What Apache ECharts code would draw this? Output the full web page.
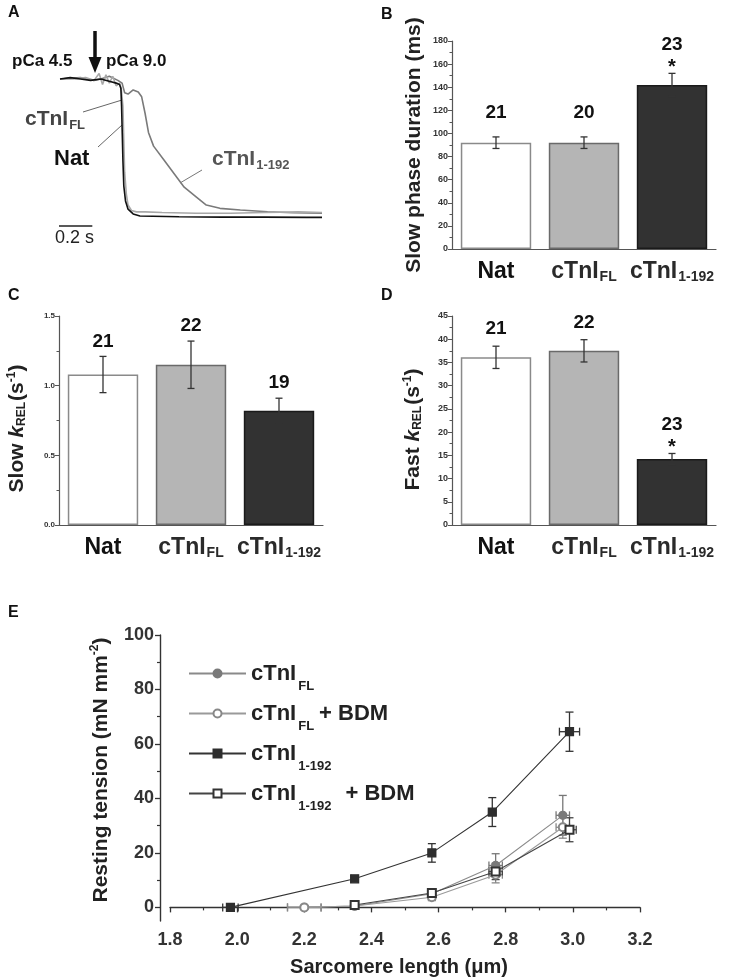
<!DOCTYPE html>
<html><head><meta charset="utf-8">
<script src="https://cdn.jsdelivr.net/npm/echarts@6/dist/echarts.min.js"></script>
<style>html,body{margin:0;padding:0;background:#fff}#c{width:747px;height:979px}</style>
</head><body><div id="c"></div>
<script>
// ---------- Panel A: relaxation traces (time in s, normalised tension) ----------
const natT = [0,0.06,0.12,0.18,0.24,0.30,0.33,0.35,0.358,0.362,0.366,0.37,0.375,0.385,0.40,0.43,0.47,0.70,0.95,1.20,1.45,1.54];
const natY = [1.00,1.01,1.00,0.99,1.00,0.98,0.97,0.96,0.93,0.80,0.60,0.40,0.22,0.11,0.05,0.015,0.0,-0.005,-0.008,-0.008,-0.01,-0.01];
const flT = [0,0.08,0.15,0.20,0.23,0.25,0.27,0.29,0.31,0.33,0.35,0.36,0.37,0.375,0.38,0.39,0.40,0.42,0.45,0.50,0.60,0.80,1.00,1.20,1.40,1.54];
const flTraceY = [1.00,1.00,1.01,0.99,1.04,0.96,1.03,0.97,1.02,0.95,0.97,0.93,0.80,0.55,0.32,0.16,0.08,0.04,0.03,0.03,0.025,0.02,0.02,0.025,0.03,0.025];
const t192T = [0,0.12,0.20,0.24,0.29,0.34,0.365,0.38,0.40,0.43,0.46,0.48,0.50,0.52,0.55,0.61,0.67,0.73,0.80,0.86,0.94,1.06,1.22,1.37,1.54];
const t192Y = [1.00,1.01,0.99,1.00,1.02,0.99,0.97,0.90,0.89,0.92,0.905,0.87,0.75,0.61,0.51,0.41,0.31,0.21,0.14,0.08,0.056,0.044,0.031,0.024,0.02];
const scaleBarT = [-0.01, 0.19];   // 0.2 s scale bar
const scaleBarY = [-0.073, -0.073];

// ---------- Panels B-D: bar charts ----------
const barCategories = ['Nat', 'cTnI_FL', 'cTnI_1-192'];
const slowDurMean = [92, 92, 142];
const slowDurErr  = [5, 5, 10];
const slowDurN    = [21, 20, 23];
const slowDurSig  = [0, 0, 1];
const slowKMean = [1.08, 1.15, 0.82];
const slowKErr  = [0.13, 0.17, 0.09];
const slowKN    = [21, 22, 19];
const slowKSig  = [0, 0, 0];
const fastKMean = [36.1, 37.5, 14.2];
const fastKErr  = [2.4, 2.4, 1.2];
const fastKN    = [21, 22, 23];
const fastKSig  = [0, 0, 1];

// ---------- Panel E: resting tension vs sarcomere length ----------
const eNames = ['cTnI_FL', 'cTnI_FL + BDM', 'cTnI_1-192', 'cTnI_1-192 + BDM'];
const flX = [2.20, 2.35, 2.58, 2.77, 2.97];
const flY = [0, 0.5, 5.0, 15.4, 33.8];
const flXErr = [0.05, 0.01, 0.01, 0.02, 0.02];
const flYErr = [0.3, 0.5, 1.0, 4.3, 7.3];
const flBdmX = [2.20, 2.35, 2.58, 2.77, 2.97];
const flBdmY = [0, 0.5, 3.7, 12.0, 29.4];
const flBdmXErr = [0.05, 0.01, 0.01, 0.02, 0.02];
const flBdmYErr = [0.3, 0.5, 1.0, 3.0, 4.0];
const t192X = [1.98, 2.35, 2.58, 2.76, 2.99];
const t192RestY = [0, 10.5, 20.0, 35.0, 64.5];
const t192XErr = [0.023, 0.01, 0.01, 0.01, 0.03];
const t192YErr = [0.5, 1.0, 3.4, 5.3, 7.2];
const t192BdmX = [2.35, 2.58, 2.77, 2.99];
const t192BdmY = [0.9, 5.3, 13.2, 28.5];
const t192BdmXErr = [0.01, 0.01, 0.02, 0.02];
const t192BdmYErr = [0.5, 1.0, 3.0, 4.4];
const eYTicks = [0, 20, 40, 60, 80, 100];
const eYMinorTicks = [10, 30, 50, 70, 90];

// ---------------------------------------------------------------
const FONT = 'Liberation Sans, Arial, sans-serif';
const zip = (a, b) => a.map((v, i) => [v, b[i]]);

function richName(name, mainKey) {
  if (name.indexOf('_') < 0) return '{' + (mainKey || 'nat') + '|' + name + '}';
  const parts = name.split('_');
  const rest = parts[1].split(' + ');
  const subKey = (rest.length > 1 && rest[0].length > 2) ? 's2' : 's';
  let s = '{m|' + parts[0] + '}{' + subKey + '|' + rest[0] + '}';
  if (rest.length > 1) s += '{m|+ ' + rest[1] + '}';
  return s;
}

// subscript: small lineHeight + top padding lowers the token by padding/2
const catRich = {
  nat: {fontSize: 23, fontWeight: 'bold', color: '#111', fontFamily: FONT, lineHeight: 26},
  m:   {fontSize: 23, fontWeight: 'bold', color: '#2a2a2a', fontFamily: FONT, lineHeight: 26},
  s:   {fontSize: 14, fontWeight: 'bold', color: '#2a2a2a', fontFamily: FONT, lineHeight: 14, padding: [11, 0, 0, 1]}
};

function barGridAxes(gi, min, max, interval, labelFmt, labelSize, nameRich, nameGap, namePad) {
  const x = {
    type: 'category', gridIndex: gi, data: barCategories,
    axisLine: {lineStyle: {color: '#555', width: 1.2}},
    axisTick: {show: false},
    axisLabel: {margin: 10, interval: 0, formatter: v => richName(v), rich: catRich}
  };
  const y = {
    type: 'value', gridIndex: gi, min: min, max: max, interval: interval,
    splitLine: {show: false},
    axisLine: {show: true, lineStyle: {color: '#555', width: 1.2}},
    axisTick: {show: true, inside: false, length: 4, lineStyle: {color: '#555'}},
    minorTick: {show: true, splitNumber: 2, length: 2.5, lineStyle: {color: '#555'}},
    axisLabel: {fontSize: labelSize, fontWeight: 'bold', color: '#333', fontFamily: FONT, margin: 4, formatter: labelFmt},
    name: nameRich.text, nameLocation: 'middle', nameRotate: 90, nameGap: nameGap,
    nameTextStyle: {rich: nameRich.rich, padding: namePad}
  };
  return [x, y];
}

const titleRich = {
  t:  {fontSize: 21, fontWeight: 'bold', color: '#222', fontFamily: FONT, lineHeight: 24},
  k:  {fontSize: 21, fontWeight: 'bold', fontStyle: 'italic', color: '#222', fontFamily: FONT, lineHeight: 24},
  sb: {fontSize: 12, fontWeight: 'bold', color: '#222', fontFamily: FONT, lineHeight: 12, padding: [10, 1, 0, 0]},
  sp: {fontSize: 12, fontWeight: 'bold', color: '#222', fontFamily: FONT, lineHeight: 12, padding: [0, 0, 10, 0]}
};

const bAx = barGridAxes(1, 0, 180, 20, v => String(v), 9, {text: '{t|Slow phase duration (ms)}', rich: titleRich}, 26, [0, 0, 0, 0]);
const cAx = barGridAxes(2, 0, 1.5, 0.5, v => v.toFixed(1), 8, {text: '{t|Slow }{k|k}{sb|REL}{t|(s}{sp|-1}{t|)}', rich: titleRich}, 30, [0, 16, 0, 0]);
const dAx = barGridAxes(3, 0, 45, 5, v => String(v), 9, {text: '{t|Fast }{k|k}{sb|REL}{t|(s}{sp|-1}{t|)}', rich: titleRich}, 27, [0, 18, 0, 0]);

const barColors = [
  {color: '#ffffff', borderColor: '#8a8a8a'},
  {color: '#b5b5b5', borderColor: '#6a6a6a'},
  {color: '#323232', borderColor: '#1a1a1a'}
];

function barSeries(gi, mean, err, n, sig, gap) {
  const bars = {
    type: 'bar', xAxisIndex: gi, yAxisIndex: gi, barWidth: '80%',
    data: mean.map((v, i) => ({value: v, itemStyle: {color: barColors[i].color, borderColor: barColors[i].borderColor, borderWidth: 1.5}})),
    silent: true, animation: false
  };
  const errs = {
    type: 'custom', xAxisIndex: gi, yAxisIndex: gi, z: 5, animation: false, silent: true,
    data: mean.map((v, i) => [i, v - err[i], v + err[i]]),
    encode: {x: 0, y: [1, 2]},
    renderItem: (p, api) => {
      const a = api.coord([api.value(0), api.value(1)]);
      const b = api.coord([api.value(0), api.value(2)]);
      const st = {stroke: '#333', lineWidth: 1.3};
      return {type: 'group', children: [
        {type: 'line', shape: {x1: a[0], y1: a[1], x2: b[0], y2: b[1]}, style: st},
        {type: 'line', shape: {x1: a[0] - 3.5, y1: a[1], x2: a[0] + 3.5, y2: a[1]}, style: st},
        {type: 'line', shape: {x1: b[0] - 3.5, y1: b[1], x2: b[0] + 3.5, y2: b[1]}, style: st}
      ]};
    }
  };
  const labels = {
    type: 'custom', xAxisIndex: gi, yAxisIndex: gi, z: 6, animation: false, silent: true,
    data: mean.map((v, i) => [i, v + err[i], n[i], sig[i]]),
    encode: {x: 0, y: 1},
    renderItem: (p, api) => {
      const a = api.coord([api.value(0), api.value(1)]);
      const s = api.value(3);
      const ts = {fontSize: 19, fontWeight: 'bold', fill: '#111', fontFamily: FONT, align: 'center', verticalAlign: 'middle'};
      const kids = [{type: 'text', x: a[0], y: a[1] - (s ? 29 : gap), style: Object.assign({text: String(api.value(2))}, ts)}];
      if (s) kids.push({type: 'text', x: a[0], y: a[1] - 6, style: Object.assign({text: '*'}, ts, {fontSize: 20})});
      return {type: 'group', children: kids};
    }
  };
  return [bars, errs, labels];
}

// Panel E series
const eStyles = [
  {symbol: 'circle', item: '#7a7a7a', line: '#8a8a8a', err: '#777'},
  {symbol: 'emptyCircle', item: '#888', line: '#9a9a9a', err: '#888'},
  {symbol: 'rect', item: '#2e2e2e', line: '#333', err: '#333'},
  {symbol: 'emptyRect', item: '#333', line: '#444', err: '#444'}
];
const eData = [
  [flX, flY, flXErr, flYErr],
  [flBdmX, flBdmY, flBdmXErr, flBdmYErr],
  [t192X, t192RestY, t192XErr, t192YErr],
  [t192BdmX, t192BdmY, t192BdmXErr, t192BdmYErr]
];
const eSeries = [];
eData.forEach((d, k) => {
  const st = eStyles[k];
  eSeries.push({
    type: 'custom', xAxisIndex: 4, yAxisIndex: 4, z: 3, animation: false, silent: true, clip: false,
    data: d[0].map((x, i) => [x, d[1][i], d[2][i], d[3][i]]),
    encode: {x: 0, y: 1},
    renderItem: (p, api) => {
      const x = api.value(0), y = api.value(1), xe = api.value(2), ye = api.value(3);
      const lo = api.coord([x, y - ye]), hi = api.coord([x, y + ye]);
      const l = api.coord([x - xe, y]), r = api.coord([x + xe, y]);
      const s = {stroke: st.err, lineWidth: 1.3};
      return {type: 'group', children: [
        {type: 'line', shape: {x1: lo[0], y1: lo[1], x2: hi[0], y2: hi[1]}, style: s},
        {type: 'line', shape: {x1: lo[0] - 4, y1: lo[1], x2: lo[0] + 4, y2: lo[1]}, style: s},
        {type: 'line', shape: {x1: hi[0] - 4, y1: hi[1], x2: hi[0] + 4, y2: hi[1]}, style: s},
        {type: 'line', shape: {x1: l[0], y1: l[1], x2: r[0], y2: r[1]}, style: s},
        {type: 'line', shape: {x1: l[0], y1: l[1] - 4, x2: l[0], y2: l[1] + 4}, style: s},
        {type: 'line', shape: {x1: r[0], y1: r[1] - 4, x2: r[0], y2: r[1] + 4}, style: s}
      ]};
    }
  });
});
eData.forEach((d, k) => {
  const st = eStyles[k];
  eSeries.push({
    type: 'line', name: eNames[k], xAxisIndex: 4, yAxisIndex: 4, z: 4, animation: false, clip: false,
    data: zip(d[0], d[1]),
    symbol: st.symbol, symbolSize: 8, showAllSymbol: true,
    itemStyle: {color: st.item, borderColor: st.item, borderWidth: 1.2},
    lineStyle: {color: st.line, width: 1.1}
  });
});

const traceSeries = [
  {data: zip(t192T, t192Y), color: '#7a7a7a'},
  {data: zip(flT, flTraceY), color: '#a8a8a8'},
  {data: zip(natT, natY), color: '#111'},
  {data: zip(scaleBarT, scaleBarY), color: '#222'}
].map(s => ({type: 'line', xAxisIndex: 0, yAxisIndex: 0, data: s.data, symbol: 'none', clip: false,
  animation: false, silent: true, lineStyle: {color: s.color, width: 1.6}}));

const legendRich = {
  m:  {fontSize: 22, fontWeight: 'bold', color: '#222', fontFamily: FONT, lineHeight: 24},
  s:  {fontSize: 13, fontWeight: 'bold', color: '#222', fontFamily: FONT, lineHeight: 13, padding: [26, 5, 0, 2]},
  s2: {fontSize: 13, fontWeight: 'bold', color: '#222', fontFamily: FONT, lineHeight: 13, padding: [26, 14, 0, 2]}
};

const labelRichA = {
  m: {fontSize: 21, fontWeight: 'bold', fontFamily: FONT, lineHeight: 24},
  s: {fontSize: 13, fontWeight: 'bold', fontFamily: FONT, lineHeight: 13, padding: [13, 0, 0, 1]}
};

function gtext(x, y, text, size, color, extra) {
  return Object.assign({type: 'text', x: x, y: y, style: {text: text, fontSize: size, fontWeight: 'bold', fill: color,
    fontFamily: FONT, verticalAlign: 'middle', align: 'left'}}, extra || {});
}

const option = {
  backgroundColor: '#fff',
  textStyle: {fontFamily: FONT},
  grid: [
    {left: 60, top: 79, width: 262, height: 137},
    {left: 452, top: 41, width: 264, height: 208},
    {left: 59, top: 316, width: 264, height: 209},
    {left: 452, top: 316, width: 264, height: 209},
    {left: 170, top: 635, width: 470, height: 286}
  ],
  xAxis: [
    {type: 'value', gridIndex: 0, min: 0, max: 1.54, show: false},
    bAx[0], cAx[0], dAx[0],
    {type: 'value', gridIndex: 4, min: 1.8, max: 3.2, interval: 0.2,
      splitLine: {show: false},
      axisLine: {lineStyle: {color: '#333', width: 1.4}},
      axisTick: {length: 5, lineStyle: {color: '#333', width: 1.3}},
      minorTick: {show: true, splitNumber: 2, length: 3, lineStyle: {color: '#333', width: 1.2}},
      axisLabel: {fontSize: 18, fontWeight: 'bold', color: '#333', margin: 10, formatter: v => v.toFixed(1)},
      name: 'Sarcomere length (μm)', nameLocation: 'middle', nameGap: 36,
      nameTextStyle: {fontSize: 20, fontWeight: 'bold', color: '#222', padding: [0, 12, 0, 0]}}
  ],
  yAxis: [
    {type: 'value', gridIndex: 0, min: 0, max: 1, show: false},
    bAx[1], cAx[1], dAx[1],
    {type: 'value', gridIndex: 4, min: -5, max: 100, offset: 10, position: 'left',
      splitLine: {show: false},
      axisLine: {show: true, lineStyle: {color: '#333', width: 1.4}},
      axisTick: {show: true, length: 5, customValues: eYTicks, lineStyle: {color: '#333', width: 1.3}},
      axisLabel: {fontSize: 18, fontWeight: 'bold', color: '#333', margin: 6, customValues: eYTicks},
      name: '{t|Resting tension (mN mm}{sp|-2}{t|)}', nameLocation: 'middle', nameRotate: 90, nameGap: 37,
      nameTextStyle: {padding: [0, 0, 0, 16], rich: {
        t: {fontSize: 21, fontWeight: 'bold', color: '#222', fontFamily: FONT, lineHeight: 24},
        sp: {fontSize: 12, fontWeight: 'bold', color: '#222', fontFamily: FONT, lineHeight: 12, padding: [0, 0, 12, 0]}
      }}},
    {type: 'value', gridIndex: 4, min: -5, max: 100, offset: 10, position: 'left',
      splitLine: {show: false}, axisLine: {show: false},
      axisTick: {show: true, length: 3, customValues: eYMinorTicks, lineStyle: {color: '#333', width: 1.2}},
      axisLabel: {show: false, customValues: eYMinorTicks}}
  ],
  legend: {
    data: eNames, orient: 'vertical', left: 183, top: 649, itemWidth: 57, itemHeight: 10, itemGap: 1,
    selectedMode: false, formatter: name => richName(name), textStyle: {rich: legendRich}
  },
  series: [].concat(
    traceSeries,
    barSeries(1, slowDurMean, slowDurErr, slowDurN, slowDurSig, 24),
    barSeries(2, slowKMean, slowKErr, slowKN, slowKSig, 15),
    barSeries(3, fastKMean, fastKErr, fastKN, fastKSig, 17),
    eSeries
  ),
  graphic: [
    gtext(8, 13, 'A', 16, '#111'),
    gtext(381, 15, 'B', 16, '#111'),
    gtext(8, 296, 'C', 16, '#111'),
    gtext(381, 296, 'D', 16, '#111'),
    gtext(8, 613, 'E', 16, '#111'),
    gtext(12, 61, 'pCa 4.5', 17, '#111'),
    gtext(106, 61, 'pCa 9.0', 17, '#111'),
    {type: 'line', shape: {x1: 95, y1: 31, x2: 95, y2: 62}, style: {stroke: '#111', lineWidth: 3.5}},
    {type: 'polygon', shape: {points: [[88.5, 57], [101.5, 57], [95, 73]]}, style: {fill: '#111'}},
    {type: 'text', x: 25, y: 119, style: {text: '{m|cTnI}{s|FL}', rich: labelRichA, fill: '#444', verticalAlign: 'middle'}},
    {type: 'text', x: 54, y: 159, style: {text: 'Nat', fontSize: 22, fontWeight: 'bold', fill: '#111', fontFamily: FONT, verticalAlign: 'middle'}},
    {type: 'text', x: 212, y: 159, style: {text: '{m|cTnI}{s|1-192}', rich: labelRichA, fill: '#555', verticalAlign: 'middle'}},
    {type: 'line', shape: {x1: 83, y1: 112, x2: 122, y2: 100}, style: {stroke: '#666', lineWidth: 1}},
    {type: 'line', shape: {x1: 98, y1: 147, x2: 122, y2: 125}, style: {stroke: '#666', lineWidth: 1}},
    {type: 'line', shape: {x1: 202, y1: 170, x2: 180, y2: 183}, style: {stroke: '#777', lineWidth: 1}},
    {type: 'text', x: 55, y: 238, style: {text: '0.2 s', fontSize: 18, fill: '#222', fontFamily: FONT, verticalAlign: 'middle'}}
  ]
};

const chart = echarts.init(document.getElementById('c'), null, {renderer: 'canvas'});
chart.setOption(option);
</script>
</body></html>
